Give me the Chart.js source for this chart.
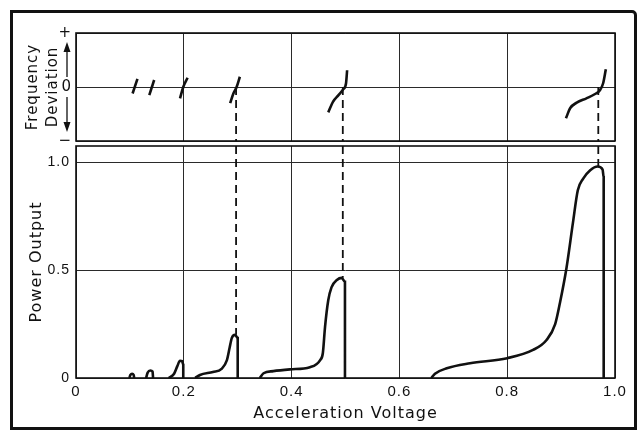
<!DOCTYPE html>
<html>
<head>
<meta charset="utf-8">
<title>Power output and frequency deviation vs acceleration voltage</title>
<script src="https://cdn.jsdelivr.net/npm/chart.js@4.4.0/dist/chart.umd.min.js"></script>
<style>
  html, body { margin: 0; padding: 0; background: #fff; }
  body { width: 643px; height: 433px; position: relative; overflow: hidden; }
  #frame {
    position: absolute; left: 10px; top: 10px;
    width: 621px; height: 414px;
    border: 3px solid #111; border-top-right-radius: 5px;
  }
  canvas { position: absolute; left: 0; display: block; }
  #freq-chart { top: 0; }
  #power-chart { top: 143px; }
</style>
</head>
<body>
<div id="frame"></div>
<canvas id="freq-chart" width="643" height="143"></canvas>
<canvas id="power-chart" width="643" height="290"></canvas>

<script>
// ---- data ----
const voltageTicks = [0, 0.2, 0.4, 0.6, 0.8, 1.0];
const powerTicks = [0, 0.5, 1.0];
const deviationTicks = [-1, 0, 1];
const deviationLabels = ['\u2212', '0', '+'];

// frequency deviation traces (top panel)
const freq1V = [0.105, 0.114];
const freq1D = [-0.12, 0.15];
const freq2V = [0.136, 0.145];
const freq2D = [-0.15, 0.13];
const freq3V = [0.193, 0.199, 0.207];
const freq3D = [-0.21, 0.0, 0.17];
const freq4V = [0.286, 0.292, 0.298, 0.304];
const freq4D = [-0.30, -0.12, 0.0, 0.19];
const freq5V = [0.468, 0.477, 0.487, 0.496, 0.501, 0.503];
const freq5D = [-0.47, -0.27, -0.15, -0.04, 0.07, 0.31];
const freq6V = [0.909, 0.917, 0.929, 0.947, 0.963, 0.972, 0.978, 0.983];
const freq6D = [-0.58, -0.39, -0.29, -0.21, -0.13, -0.06, 0.07, 0.33];

// power output modes (bottom panel)
const mode1V = [0.099, 0.101, 0.104, 0.107, 0.108];
const mode1P = [0.0, 0.014, 0.02, 0.014, 0.0];
const mode2V = [0.130, 0.133, 0.138, 0.142, 0.143];
const mode2P = [0.0, 0.025, 0.035, 0.03, 0.0];
const mode3V = [0.172, 0.182, 0.188, 0.193, 0.197, 0.199, 0.199];
const mode3P = [0.0, 0.02, 0.055, 0.08, 0.078, 0.06, 0.0];
const mode4V = [0.221, 0.23, 0.254, 0.27, 0.28, 0.285, 0.289, 0.295, 0.3, 0.3];
const mode4P = [0.0, 0.014, 0.028, 0.042, 0.083, 0.14, 0.185, 0.2, 0.185, 0.0];
const mode5V = [0.341, 0.348, 0.366, 0.397, 0.434, 0.453, 0.458, 0.462, 0.468, 0.474, 0.484, 0.493, 0.499, 0.499];
const mode5P = [0.0, 0.022, 0.032, 0.04, 0.05, 0.083, 0.116, 0.236, 0.36, 0.42, 0.454, 0.464, 0.446, 0.0];
const mode6V = [0.659, 0.666, 0.688, 0.731, 0.8, 0.848, 0.873, 0.889, 0.898, 0.91, 0.922, 0.931, 0.941, 0.954, 0.968, 0.977, 0.979, 0.979];
const mode6P = [0.0, 0.02, 0.045, 0.068, 0.092, 0.13, 0.176, 0.25, 0.35, 0.51, 0.72, 0.87, 0.924, 0.963, 0.98, 0.966, 0.93, 0.0];

// peaks linked by dashed lines across both panels
const peakVoltages = [0.297, 0.495, 0.969];
const peakPowers = [0.2, 0.464, 0.98];

// ---- helpers ----
const INK = '#111';
const GRID = '#2a2a2a';
const pts = (xs, ys) => xs.map((x, i) => ({ x: x, y: ys[i] }));

function curve(xs, ys) {
    return {
        data: pts(xs, ys),
        showLine: true,
        borderColor: INK,
        borderWidth: 2.6,
        pointRadius: 0,
        cubicInterpolationMode: 'monotone',
        fill: false
    };
}

function dashed(x, y1, y2) {
    return {
        data: [{ x: x, y: y1 }, { x: x, y: y2 }],
        showLine: true,
        borderColor: INK,
        borderWidth: 1.8,
        borderDash: [8, 5],
        pointRadius: 0,
        tension: 0
    };
}

// keep tick labels from pushing the plot area around
function fixSize(w, h) {
    return (s) => {
        if (w !== null) s.width = w;
        if (h !== null) s.height = h;
        s.paddingTop = 0; s.paddingBottom = 0;
        s.paddingLeft = 0; s.paddingRight = 0;
    };
}

// draw the box round a panel
const panelFrame = {
    id: 'panelFrame',
    afterDraw(chart) {
        const { ctx, chartArea: a } = chart;
        ctx.save();
        ctx.strokeStyle = INK;
        ctx.lineWidth = 1.6;
        ctx.strokeRect(a.left, a.top, a.right - a.left, a.bottom - a.top);
        ctx.restore();
    }
};

// arrows between the +, 0 and − labels of the deviation axis
const deviationArrows = {
    id: 'deviationArrows',
    afterDraw(chart) {
        const s = chart.scales.y;
        const ctx = chart.ctx;
        const x = s.right - 9;
        const yTop = s.getPixelForValue(1);
        const yMid = s.getPixelForValue(0);
        const yBot = s.getPixelForValue(-1);
        ctx.save();
        ctx.strokeStyle = INK;
        ctx.fillStyle = INK;
        ctx.lineWidth = 1.3;
        ctx.beginPath();
        ctx.moveTo(x, yMid - 10); ctx.lineTo(x, yTop + 14);
        ctx.moveTo(x, yMid + 10); ctx.lineTo(x, yBot - 14);
        ctx.stroke();
        ctx.beginPath();
        ctx.moveTo(x, yTop + 9); ctx.lineTo(x - 3.5, yTop + 19); ctx.lineTo(x + 3.5, yTop + 19); ctx.closePath();
        ctx.moveTo(x, yBot - 9); ctx.lineTo(x - 3.5, yBot - 19); ctx.lineTo(x + 3.5, yBot - 19); ctx.closePath();
        ctx.fill();
        ctx.restore();
    }
};

// spaced lettering like the drafted original
const spacedText = {
    id: 'spacedText',
    beforeDraw(chart) { chart.ctx.letterSpacing = '1px'; }
};

Chart.defaults.font.family = "'DejaVu Sans', sans-serif";
Chart.defaults.color = INK;

const xScaleBase = {
    type: 'linear',
    min: 0,
    max: 1,
    afterBuildTicks: (s) => { s.ticks = voltageTicks.map(v => ({ value: v })); },
    grid: { color: GRID, lineWidth: 1, drawTicks: false },
    border: { display: false }
};

// ---- top panel: frequency deviation ----
new Chart(document.getElementById('freq-chart'), {
    type: 'scatter',
    data: {
        datasets: [
            curve(freq1V, freq1D),
            curve(freq2V, freq2D),
            curve(freq3V, freq3D),
            curve(freq4V, freq4D),
            curve(freq5V, freq5D),
            curve(freq6V, freq6D),
            ...peakVoltages.map(v => dashed(v, 0, -1))
        ]
    },
    options: {
        responsive: false,
        animation: false,
        layout: { padding: { top: 33, right: 28, bottom: 2, left: 0 } },
        plugins: { legend: { display: false }, tooltip: { enabled: false } },
        scales: {
            x: Object.assign({}, xScaleBase, {
                ticks: { display: false },
                afterFit: fixSize(null, 0)
            }),
            y: {
                min: -1,
                max: 1,
                afterBuildTicks: (s) => { s.ticks = deviationTicks.map(v => ({ value: v })); },
                grid: { color: GRID, lineWidth: 1, drawTicks: false },
                border: { display: false },
                ticks: {
                    padding: 4,
                    font: { size: 15 },
                    callback: (v) => deviationLabels[deviationTicks.indexOf(v)]
                },
                title: {
                    display: true,
                    text: ['Frequency', 'Deviation'],
                    font: { size: 15, lineHeight: 1.35 },
                    padding: { top: 23, bottom: 0 }
                },
                afterFit: fixSize(76, null)
            }
        }
    },
    plugins: [spacedText, panelFrame, deviationArrows]
});

// ---- bottom panel: power output ----
new Chart(document.getElementById('power-chart'), {
    type: 'scatter',
    data: {
        datasets: [
            curve(mode1V, mode1P),
            curve(mode2V, mode2P),
            curve(mode3V, mode3P),
            curve(mode4V, mode4P),
            curve(mode5V, mode5P),
            curve(mode6V, mode6P),
            ...peakVoltages.map((v, i) => dashed(v, 1.075, peakPowers[i]))
        ]
    },
    options: {
        responsive: false,
        animation: false,
        layout: { padding: { top: 3, right: 28, bottom: 0, left: 0 } },
        plugins: { legend: { display: false }, tooltip: { enabled: false } },
        scales: {
            x: Object.assign({}, xScaleBase, {
                ticks: {
                    padding: 5,
                    font: { family: "'Liberation Sans', sans-serif", size: 15 },
                    callback: (v) => v === 0 ? '0' : v.toFixed(1)
                },
                title: {
                    display: true,
                    text: 'Acceleration Voltage',
                    font: { size: 16 },
                    padding: { top: 0, bottom: 10 }
                },
                afterFit: fixSize(null, 55)
            }),
            y: {
                min: 0,
                max: 1.075,
                afterBuildTicks: (s) => { s.ticks = powerTicks.map(v => ({ value: v })); },
                grid: { color: GRID, lineWidth: 1, drawTicks: false },
                border: { display: false },
                ticks: {
                    padding: 6,
                    font: { family: "'Liberation Sans', sans-serif", size: 14 },
                    callback: (v) => v === 0 ? '0' : v.toFixed(1)
                },
                title: {
                    display: true,
                    text: 'Power Output',
                    font: { size: 16 },
                    padding: { top: 27, bottom: 0 }
                },
                afterFit: fixSize(76, null)
            }
        }
    },
    plugins: [spacedText, panelFrame]
});
</script>
</body>
</html>
